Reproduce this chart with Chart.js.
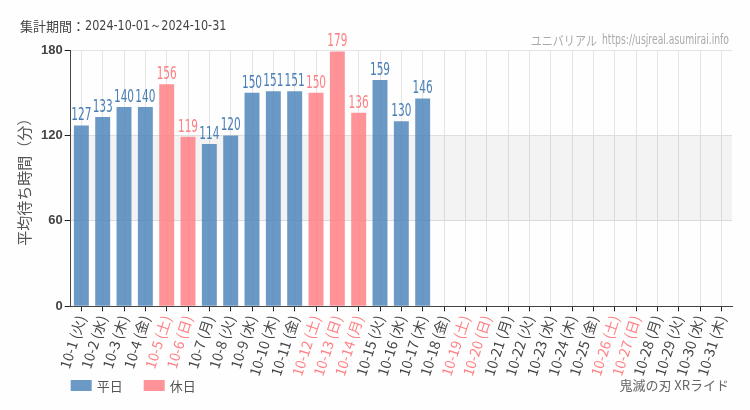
<!DOCTYPE html>
<html lang="ja">
<head>
<meta charset="UTF-8">
<title>鬼滅の刃 XRライド</title>
<style>
  body { margin: 0; background: #fdfefd; }
  #wrap { width: 750px; height: 410px; }
</style>
<script src="https://cdn.jsdelivr.net/npm/chart.js"></script>
</head>
<body>
<div id="wrap"><canvas id="myChart" width="750" height="410"></canvas></div>
<script>
const days = ['10-1','10-2','10-3','10-4','10-5','10-6','10-7','10-8','10-9','10-10','10-11','10-12','10-13','10-14','10-15','10-16',
  '10-17','10-18','10-19','10-20','10-21','10-22','10-23','10-24','10-25','10-26','10-27','10-28','10-29','10-30','10-31'];
const weekdays = ['火','水','木','金','土','日','月','火','水','木','金','土','日','月','火','水',
  '木','金','土','日','月','火','水','木','金','土','日','月','火','水','木'];
const holidays = ['10-5','10-6','10-12','10-13','10-14','10-19','10-20','10-26','10-27'];
const waitTimes = [127,133,140,140,156,119,114,120,150,151,151,150,179,136,159,130,146,
  null,null,null,null,null,null,null,null,null,null,null,null,null,null];
const yTicks = [0, 60, 120, 180];

const labels = days.map((d, i) => d + ' (' + weekdays[i] + ')');
const isHoliday = days.map(d => holidays.includes(d));
const weekdayData = waitTimes.map((v, i) => isHoliday[i] ? null : v);
const holidayData = waitTimes.map((v, i) => isHoliday[i] ? v : null);

const BLUE = 'rgba(70,127,184,0.8)';
const PINK = 'rgba(255,120,125,0.8)';
const jpFont = '"Noto Sans CJK JP", sans-serif';

// draw text squeezed horizontally (condensed look)
function narrowText(ctx, text, x, y, squeeze) {
  ctx.save();
  ctx.translate(x, y);
  ctx.scale(squeeze, 1);
  ctx.fillText(text, 0, 0);
  ctx.restore();
}

// band, bar values, header/footer texts, legend
const extras = {
  id: 'extras',
  beforeDatasetsDraw(chart) {
    const { ctx, chartArea, scales } = chart;
    const y1 = scales.y.getPixelForValue(120), y0 = scales.y.getPixelForValue(60);
    ctx.save();
    ctx.fillStyle = 'rgba(0,0,0,0.045)';
    ctx.fillRect(chartArea.left, y1, chartArea.right - chartArea.left, y0 - y1);
    ctx.restore();
  },
  afterDatasetsDraw(chart) {
    const { ctx } = chart;
    ctx.save();
    ctx.textAlign = 'center';
    ctx.textBaseline = 'bottom';
    ctx.font = '17px "DejaVu Sans", sans-serif';
    chart.data.datasets.forEach((ds, di) => {
      const meta = chart.getDatasetMeta(di);
      ctx.fillStyle = di === 0 ? '#4a7eb6' : '#ff8085';
      meta.data.forEach((bar, i) => {
        const v = ds.data[i];
        if (v == null) return;
        narrowText(ctx, v, bar.x, bar.y - 1, 0.62);
      });
    });
    ctx.restore();
  },
  afterDraw(chart) {
    const { ctx, chartArea } = chart;
    ctx.save();
    ctx.textBaseline = 'middle';
    ctx.fillStyle = '#444';
    ctx.font = '13px ' + jpFont;
    ctx.textAlign = 'left';
    ctx.fillText('集計期間：', 20, 26);
    ctx.font = '14px "DejaVu Sans", sans-serif';
    narrowText(ctx, '2024-10-01～2024-10-31', 85, 26, 0.8);

    ctx.fillStyle = '#aaa';
    ctx.textAlign = 'right';
    ctx.font = '14px "DejaVu Sans", sans-serif';
    narrowText(ctx, 'https://usjreal.asumirai.info', 729, 40, 0.66);
    ctx.font = '13px ' + jpFont;
    narrowText(ctx, 'ユニバリアル', 597, 40, 0.85);

    ctx.fillStyle = '#666';
    ctx.font = '13px ' + jpFont;
    ctx.fillText('鬼滅の刃 XRライド', 729, 385);

    // legend
    const items = chart.data.datasets;
    let x = chartArea.left;
    ctx.textAlign = 'left';
    ctx.font = '13px ' + jpFont;
    items.forEach(ds => {
      ctx.fillStyle = ds.backgroundColor;
      ctx.fillRect(x, 380, 21, 11);
      ctx.fillStyle = '#555';
      ctx.fillText(ds.label, x + 26, 386);
      x += 26 + ctx.measureText(ds.label).width + 21;
    });
    ctx.restore();
  }
};

new Chart(document.getElementById('myChart'), {
  type: 'bar',
  data: {
    labels: labels,
    datasets: [
      { label: '平日', data: weekdayData, backgroundColor: BLUE },
      { label: '休日', data: holidayData, backgroundColor: PINK }
    ]
  },
  plugins: [extras],
  options: {
    responsive: false,
    animation: false,
    devicePixelRatio: 1,
    layout: { padding: { top: 50, right: 18, left: 11, bottom: 30 } },
    datasets: { bar: { grouped: false, categoryPercentage: 1, barPercentage: 0.7 } },
    scales: {
      x: {
        grid: { offset: false, color: '#e4e4e4', tickLength: 5, tickColor: '#222' },
        border: { color: '#444' },
        ticks: {
          autoSkip: false, maxRotation: 72, minRotation: 72, padding: 2,
          font: { size: 14, family: jpFont },
          color: ctx => isHoliday[ctx.index] ? '#ff8085' : '#444'
        }
      },
      y: {
        min: 0, max: 180,
        afterBuildTicks: axis => { axis.ticks = yTicks.map(v => ({ value: v })); },
        grid: { color: '#e4e4e4', tickLength: 6, tickColor: '#222' },
        border: { color: '#444' },
        ticks: { font: { size: 13, weight: 'bold', family: '"Liberation Sans", sans-serif' }, color: '#444', padding: 2 },
        title: { display: true, text: '平均待ち時間（分）', color: '#555',
                 font: { size: 15, family: jpFont }, padding: { bottom: 6 } }
      }
    },
    plugins: {
      legend: { display: false },
      tooltip: { enabled: false }
    }
  }
});
</script>
</body>
</html>
